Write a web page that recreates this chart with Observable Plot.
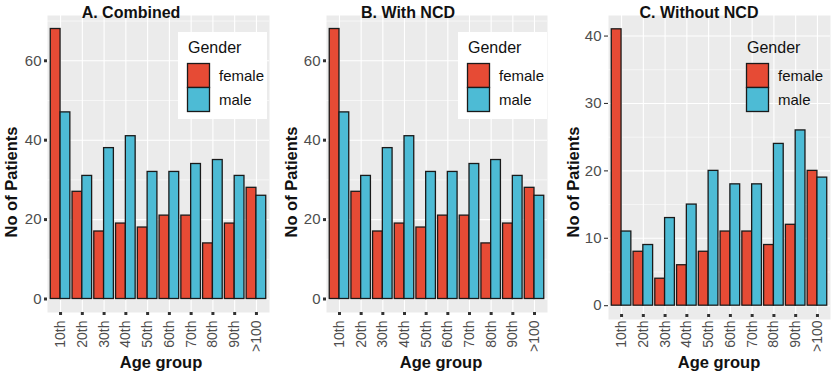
<!DOCTYPE html>
<html>
<head>
<meta charset="utf-8">
<script src="https://cdn.jsdelivr.net/npm/d3@7"></script>
<script src="https://cdn.jsdelivr.net/npm/@observablehq/plot@0.6"></script>
<style>
  html, body { margin: 0; padding: 0; background: #fff; }
  #wrap { position: relative; width: 831px; height: 376px; font-family: "Liberation Sans", Arial, sans-serif; }
  #wrap > svg { position: absolute; top: 0; }
  #overlay { left: 0; pointer-events: none; }
</style>
</head>
<body>
<div id="wrap"></div>
<script>
// ---- data ----
const ages = ["10th", "20th", "30th", "40th", "50th", "60th", "70th", "80th", "90th", ">100"];
const genders = ["female", "male"];
const genderColors = ["#E64B35", "#4DBBD5"];

const combinedFemale = [68, 27, 17, 19, 18, 21, 21, 14, 19, 28];
const combinedMale   = [47, 31, 38, 41, 32, 32, 34, 35, 31, 26];
const withNcdFemale  = [68, 27, 17, 19, 18, 21, 21, 14, 19, 28];
const withNcdMale    = [47, 31, 38, 41, 32, 32, 34, 35, 31, 26];
const withoutNcdFemale = [41, 8, 4, 6, 8, 11, 11, 9, 12, 20];
const withoutNcdMale   = [11, 9, 13, 15, 20, 18, 18, 24, 26, 19];

const titles = ["A. Combined", "B. With NCD", "C. Without NCD"];
const yTicksAB = [0, 20, 40, 60];
const yMinorAB = [10, 30, 50, 70];
const yTicksC = [0, 10, 20, 30, 40];
const yMinorC = [5, 15, 25, 35];
const yLabel = "No of Patients";
const xLabel = "Age group";
const legendTitle = "Gender";

const FONT = '"Liberation Sans", Arial, sans-serif';
const wrap = document.getElementById("wrap");

function panel(female, male, cfg) {
  const rows = ages.map((a, i) => ({age: a, female: female[i], male: male[i]}));
  const max = d3.max(female.concat(male));
  const step = (cfg.width - cfg.mL - cfg.mR) / (ages.length + 0.2);
  const barStyle = {stroke: "#1a1a1a", strokeWidth: 1.3};
  const chart = Plot.plot({
    width: cfg.width,
    height: 376,
    marginLeft: cfg.mL,
    marginRight: cfg.mR,
    marginTop: cfg.mT,
    marginBottom: cfg.mB,
    style: {fontFamily: FONT, background: "transparent", overflow: "visible"},
    x: {type: "band", domain: ages, paddingInner: 0, paddingOuter: 0.1, round: false, axis: null},
    y: {domain: [-0.05 * max, 1.05 * max], axis: null},
    marks: [
      Plot.frame({fill: "#EBEBEB", stroke: null}),
      Plot.ruleY(cfg.minor, {y: d => d, stroke: "white", strokeWidth: 0.55}),
      Plot.ruleY(cfg.major, {y: d => d, stroke: "white", strokeWidth: 1.1}),
      Plot.ruleX(ages, {x: d => d, stroke: "white", strokeWidth: 1.1}),
      Plot.barY(rows, {x: "age", y: "female", fill: genderColors[0], ...barStyle,
        insetLeft: 0.05 * step, insetRight: 0.5 * step}),
      Plot.barY(rows, {x: "age", y: "male", fill: genderColors[1], ...barStyle,
        insetLeft: 0.5 * step, insetRight: 0.05 * step}),
      Plot.axisY(cfg.major, {anchor: "left", label: null, tickSize: cfg.yTickSize, strokeWidth: cfg.yTickWidth,
        stroke: "#333", fill: "#4D4D4D", fontSize: 15, tickPadding: 3}),
      Plot.axisX({anchor: "bottom", label: null, tickSize: 3, strokeWidth: 3, stroke: "#333",
        fill: "#4D4D4D", fontSize: 14, tickRotate: -90, tickPadding: cfg.xPad, dy: cfg.xDy})
    ]
  });
  chart.style.left = cfg.left + "px";
  wrap.appendChild(chart);
}

panel(combinedFemale, combinedMale, {left: 0, width: 272, mL: 47, mR: 3, mT: 15, mB: 64,
  major: yTicksAB, minor: yMinorAB, yTickSize: 3, yTickWidth: 3, xPad: 5, xDy: 0});
panel(withNcdFemale, withNcdMale, {left: 275, width: 275, mL: 51, mR: 3, mT: 15, mB: 64,
  major: yTicksAB, minor: yMinorAB, yTickSize: 3, yTickWidth: 3, xPad: 5, xDy: 0});
panel(withoutNcdFemale, withoutNcdMale, {left: 555, width: 276, mL: 53, mR: 1, mT: 15, mB: 57,
  major: yTicksC, minor: yMinorC, yTickSize: 4, yTickWidth: 1.1, xPad: 3, xDy: -5});

// ---- overlay: titles, axis labels, legends ----
const ns = "http://www.w3.org/2000/svg";
const ov = d3.select(wrap).append("svg").attr("id", "overlay")
  .attr("width", 831).attr("height", 376)
  .style("font-family", FONT);

const layout = [
  {tx: 131, yl: 11, xl: 161, legX: 178, box: true},
  {tx: 408, yl: 291, xl: 441, legX: 458, box: true},
  {tx: 699, yl: 573, xl: 719, legX: 737, box: false}
];
layout.forEach((L, k) => {
  ov.append("text").attr("x", L.tx).attr("y", 18).attr("text-anchor", "middle")
    .attr("font-weight", "bold").attr("font-size", 16).attr("fill", "#111").text(titles[k]);
  ov.append("text").attr("transform", `translate(${L.yl},182) rotate(-90)`).attr("text-anchor", "middle")
    .attr("dominant-baseline", "central").attr("font-weight", "bold").attr("font-size", 16.5)
    .attr("fill", "#111").text(yLabel);
  ov.append("text").attr("x", L.xl).attr("y", 368).attr("text-anchor", "middle")
    .attr("font-weight", "bold").attr("font-size", 16.5).attr("fill", "#111").text(xLabel);
  const g = ov.append("g").attr("transform", `translate(${L.legX},32)`);
  if (L.box) g.append("rect").attr("width", 89).attr("height", 87).attr("fill", "white");
  g.append("text").attr("x", 10).attr("y", 21).attr("font-size", 16).attr("fill", "#111").text(legendTitle);
  genders.forEach((gname, i) => {
    g.append("rect").attr("x", 9.5).attr("y", 31.5 + i * 24).attr("width", 22).attr("height", 24)
      .attr("fill", genderColors[i]).attr("stroke", "#1a1a1a").attr("stroke-width", 1.3);
    g.append("text").attr("x", 41).attr("y", 48.5 + i * 24.5).attr("font-size", 15).attr("fill", "#111").text(gname);
  });
});
</script>
</body>
</html>
